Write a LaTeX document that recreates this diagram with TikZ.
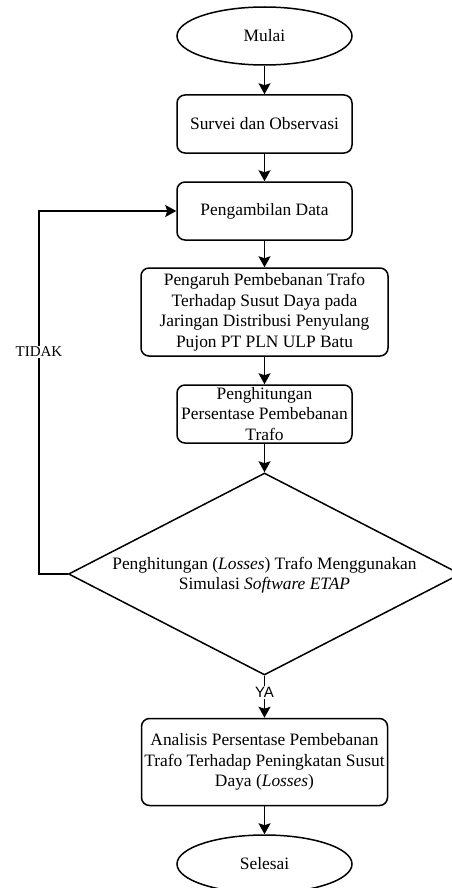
\documentclass[tikz,border=0pt]{standalone}
\usepackage{fontspec}
\setmainfont{Liberation Serif}
\newfontfamily\sansf{Liberation Sans}
\usetikzlibrary{shapes.geometric,arrows.meta}
\begin{document}
\begin{tikzpicture}[x=1pt,y=-1pt,
  line width=1.5pt,
  txt/.style={font=\fontsize{17.4}{20.5}\selectfont},
  box/.style={draw,rounded corners=8pt,align=center,txt,inner sep=0pt},
  term/.style={draw,ellipse,minimum width=175pt,minimum height=58pt,inner sep=0pt,txt},
  arr/.style={-{Stealth[length=11pt,width=12pt,inset=2pt]}},
  lbl/.style={fill=white,inner sep=1pt}
]
\useasboundingbox (0,0) rectangle (452,888);
\node[term] (start) at (264.5,36) {Mulai};
\node[box,minimum width=175pt,minimum height=58pt] (survei) at (264.5,124) {Survei dan Observasi};
\node[box,minimum width=175pt,minimum height=58pt] (data) at (264.5,211) {Pengambilan Data};
\node[box,minimum width=247pt,minimum height=88pt] (pengaruh) at (264.5,312) {Pengaruh Pembebanan Trafo\\Terhadap Susut Daya pada\\Jaringan Distribusi Penyulang\\Pujon PT PLN ULP Batu};
\node[box,minimum width=175pt,minimum height=58pt] (persen) at (264.5,414) {Penghitungan\\Persentase Pembebanan\\Trafo};
\node[draw,diamond,minimum width=392pt,minimum height=202pt,inner sep=0pt] (dec) at (264.5,574) {};
\node[align=center,txt] (dectext) at (264.5,575) {Penghitungan (\textit{Losses}) Trafo Menggunakan\\Simulasi \textit{Software ETAP}};
\node[box,minimum width=246pt,minimum height=87pt] (analisis) at (264.5,762) {Analisis Persentase Pembebanan\\Trafo Terhadap Peningkatan Susut\\Daya (\textit{Losses})};
\node[term] (end) at (264.5,864) {Selesai};
\coordinate (lp) at (39,574);

\draw[arr] (start) -- (survei);
\draw[arr] (survei) -- (data);
\draw[arr] (data) -- (pengaruh);
\draw[arr] (pengaruh) -- (persen);
\draw[arr] (persen) -- (dec.north);
\draw[arr] (dec.south) -- node[lbl,pos=0.4,font=\sansf\fontsize{15}{15}\selectfont] (ya) {YA} (analisis.north);
\draw[arr] (analisis) -- (end);
\draw[arr] (dec.west) -- (lp) |- (data.west);
\node[lbl,font=\fontsize{15}{15}\selectfont] (tidak) at (39,352) {TIDAK};
\end{tikzpicture}
\end{document}
